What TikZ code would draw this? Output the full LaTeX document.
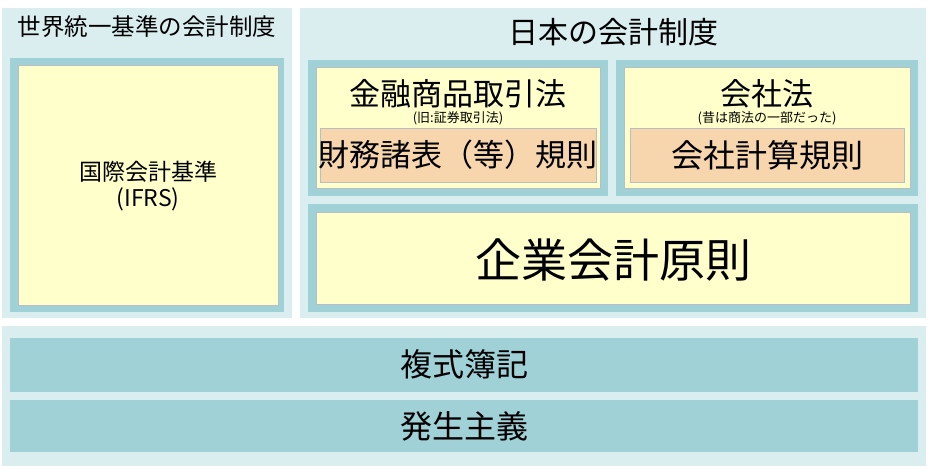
\documentclass[tikz,border=0pt]{standalone}
\usepackage{fontspec}
\setmainfont{Noto Sans CJK JP}
\definecolor{lb}{HTML}{DAEEF0}
\definecolor{tl}{HTML}{9FD1D7}
\definecolor{yl}{HTML}{FFFFCC}
\definecolor{og}{HTML}{F7D6AE}
\definecolor{gb}{HTML}{B8BEC4}
\begin{document}
\begin{tikzpicture}[x=1pt,y=-1pt,
  panel/.style={fill=lb,draw=none},
  tealbox/.style={fill=tl,draw=none},
  ybox/.style={fill=yl,draw=gb,line width=1pt},
  obox/.style={fill=og,draw=gb,line width=1pt},
  lbl/.style={inner sep=0pt,align=center,font=\fontsize{#1}{#1}\selectfont}]
\useasboundingbox (0,0) rectangle (928,468);
\fill[white] (0,0) rectangle (928,468);
% left panel
\fill[panel] (2,8) rectangle (292,318);
\node[lbl=23.5] (t1) at (147,27) {世界統一基準の会計制度};
\fill[tealbox] (10,58) rectangle (284,312);
\draw[ybox] (18,66) rectangle (278,305);
\node[lbl=23] (ifrs) at (148,186) {国際会計基準\\[3pt](IFRS)};
% right panel
\fill[panel] (300,8) rectangle (926,318);
\node[lbl=30] (t2) at (613,32) {日本の会計制度};
\fill[tealbox] (308,60) rectangle (608,196);
\draw[ybox] (316,68) rectangle (600,188);
\node[lbl=31] (kin) at (458,94) {金融商品取引法};
\node[lbl=13] (kin2) at (458,118) {(旧:証券取引法)};
\draw[obox] (320,128) rectangle (596,182);
\node[lbl=31] (zai) at (458,155) {財務諸表（等）規則};
\fill[tealbox] (616,60) rectangle (918,196);
\draw[ybox] (624,68) rectangle (910,188);
\node[lbl=31] (kai) at (767,94) {会社法};
\node[lbl=13] (kai2) at (767,118) {(昔は商法の一部だった)};
\draw[obox] (630,128) rectangle (904,182);
\node[lbl=32] (kei) at (767,155) {会社計算規則};
\fill[tealbox] (308,204) rectangle (918,312);
\draw[ybox] (316,212) rectangle (910,304);
\node[lbl=46] (kig) at (613,260) {企業会計原則};
% bottom
\fill[panel] (2,326) rectangle (926,466);
\fill[tealbox] (10,338) rectangle (918,392);
\node[lbl=32] (fuk) at (464,364) {複式簿記};
\fill[tealbox] (10,400) rectangle (918,452);
\node[lbl=32] (has) at (464,426) {発生主義};
\end{tikzpicture}
\end{document}
